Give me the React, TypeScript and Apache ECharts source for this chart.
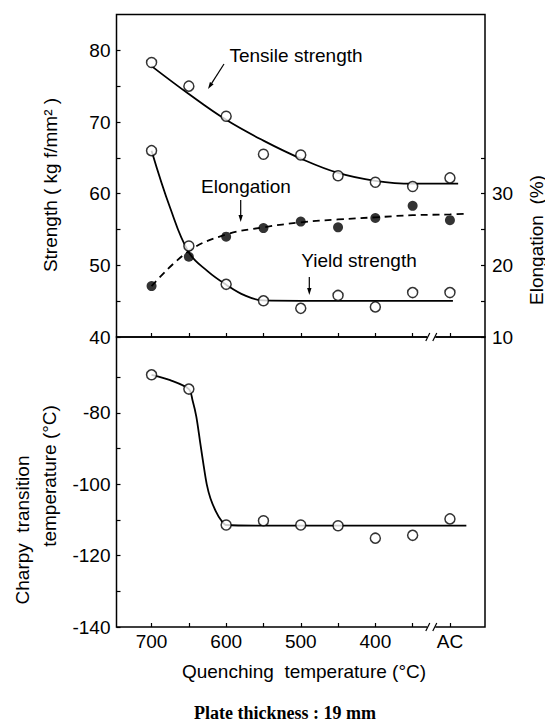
import React, { useEffect, useRef } from "react";
import * as echarts from "echarts";

// Quenching temperatures (°C); 300 is the slot used for "AC" (air cooled)
const temps = [700, 650, 600, 550, 500, 450, 400, 350, 300];
const xLabelValues = [700, 600, 500, 400, 300];

// Measured points
const tensile = [78.3, 75.0, 70.8, 65.5, 65.4, 62.5, 61.6, 61.0, 62.2];
const yieldStrength = [66.0, 52.7, 47.35, 45.05, 44.0, 45.8, 44.2, 46.2, 46.2];
const elongation = [17.1, 21.2, 24.0, 25.2, 26.1, 25.3, 26.6, 28.3, 26.3];
const charpy = [-69.3, -73.3, -111.4, -110.2, -111.4, -111.6, -115.1, -114.3, -109.7];

// Hand-drawn trend curves
const tensileFitX = [700, 650, 600, 550, 500, 450, 400, 350, 300, 289];
const tensileFitY = [77.8, 73.9, 70.3, 67.4, 64.9, 62.9, 61.8, 61.4, 61.4, 61.4];
const yieldFitX = [700, 675, 650, 625, 600, 575, 550, 500, 400, 300, 296];
const yieldFitY = [66.0, 58.0, 51.8, 49.2, 47.3, 45.8, 45.1, 45.05, 45.05, 45.05, 45.05];
const elongFitX = [700, 650, 600, 550, 500, 450, 400, 350, 300, 280];
const elongFitY = [17.1, 22.0, 24.3, 25.3, 26.0, 26.4, 26.7, 27.0, 27.1, 27.2];
const charpyFitX = [700, 675, 650, 645, 640, 635, 630, 626, 621, 614, 607, 600, 550, 400, 300, 278];
const charpyFitY = [-69.3, -70.8, -73.3, -76.5, -81, -88, -95, -100, -104, -107.5, -110, -111.4, -111.6, -111.6, -111.6, -111.6];

// Axis ticks / labels
const strengthTicks = [40, 45, 50, 55, 60, 65, 70, 75, 80];
const strengthLabels = [40, 50, 60, 70, 80];
const elongTicks = [10, 15, 20, 25, 30, 35];
const elongLabels = [10, 20, 30];
const charpyTicks = [-140, -130, -120, -110, -100, -90, -80, -70];
const charpyLabels = [-140, -120, -100, -80];

const FONT = "'Liberation Sans', 'DejaVu Sans', sans-serif";
const BLACK = "#000";

const pairs = (xs: number[], ys: number[]) => xs.map((x, i) => [x, ys[i]]);

function arrow(x1: number, y1: number, x2: number, y2: number) {
  const dx = x2 - x1, dy = y2 - y1;
  const L = Math.hypot(dx, dy);
  const ux = dx / L, uy = dy / L;
  const hl = 7, hw = 2.2;
  const bx = x2 - ux * hl, by = y2 - uy * hl;
  return [
    { type: "line", shape: { x1, y1, x2: bx, y2: by }, style: { stroke: BLACK, lineWidth: 1.2 } },
    {
      type: "polygon",
      shape: { points: [[x2, y2], [bx - uy * hw, by + ux * hw], [bx + uy * hw, by - ux * hw]] },
      style: { fill: BLACK },
    },
  ];
}

function txt(text: string, x: number, y: number, opts: any = {}) {
  return {
    type: "text",
    x,
    y,
    rotation: opts.rotation || 0,
    style: {
      text,
      fill: BLACK,
      font: opts.font || `19px ${FONT}`,
      align: "center",
      verticalAlign: "middle",
      textAlign: "center",
      textVerticalAlign: "middle",
    },
  };
}

export default function App() {
  const ref = useRef<HTMLDivElement>(null);

  useEffect(() => {
    if (!ref.current) return;
    const chart = echarts.init(ref.current, undefined, { renderer: "svg" });

    const tickStyle = { color: BLACK, width: 1.2 };
    const labelBase = { color: BLACK, fontSize: 19, fontFamily: FONT };

    const xAxisBase = {
      type: "value",
      min: 253,
      max: 747,
      inverse: true,
      axisLine: { show: false },
      splitLine: { show: false },
      axisTick: { show: true, inside: true, length: 4, lineStyle: tickStyle, customValues: temps },
    };

    const openCircle = { color: "#fff", borderColor: BLACK, borderWidth: 1.5 };
    const curve = (name: string, xi: number, yi: number, xs: number[], ys: number[], extra: any = {}) => ({
      type: "line", name, xAxisIndex: xi, yAxisIndex: yi,
      data: pairs(xs, ys), smooth: 0.4, symbol: "none",
      lineStyle: { color: BLACK, width: 1.8, ...extra }, z: 2,
    });

    const option: any = {
      animation: false,
      backgroundColor: "#fff",
      grid: [
        { left: 116.5, top: 14.5, width: 368.5, height: 322.5, show: true, borderColor: BLACK, borderWidth: 1.5, backgroundColor: "transparent" },
        { left: 116.5, top: 337, width: 368.5, height: 290, show: true, borderColor: BLACK, borderWidth: 1.5, backgroundColor: "transparent" },
      ],
      xAxis: [
        { ...xAxisBase, gridIndex: 0, axisLabel: { show: false } },
        {
          ...xAxisBase,
          gridIndex: 1,
          axisLabel: {
            ...labelBase,
            margin: 5,
            customValues: xLabelValues,
            formatter: (v: number) => (v === 300 ? "AC" : String(v)),
          },
        },
      ],
      yAxis: [
        {
          type: "value", gridIndex: 0, position: "left", min: 40, max: 85,
          axisLine: { show: false }, splitLine: { show: false },
          axisTick: { show: true, inside: true, length: 4, lineStyle: tickStyle, customValues: strengthTicks },
          axisLabel: { ...labelBase, margin: 6, customValues: strengthLabels },
        },
        {
          type: "value", gridIndex: 0, position: "right", min: 10, max: 55,
          axisLine: { show: false }, splitLine: { show: false },
          axisTick: { show: true, inside: true, length: 4, lineStyle: tickStyle, customValues: elongTicks },
          axisLabel: { ...labelBase, margin: 7, customValues: elongLabels },
        },
        {
          type: "value", gridIndex: 1, position: "left", min: -140, max: -58.7,
          axisLine: { show: false }, splitLine: { show: false },
          axisTick: { show: true, inside: true, length: 4, lineStyle: tickStyle, customValues: charpyTicks },
          axisLabel: { ...labelBase, margin: 6, customValues: charpyLabels },
        },
      ],
      series: [
        curve("Tensile fit", 0, 0, tensileFitX, tensileFitY),
        curve("Yield fit", 0, 0, yieldFitX, yieldFitY),
        curve("Elongation fit", 0, 1, elongFitX, elongFitY, { type: [7, 5] }),
        { ...curve("Charpy fit", 1, 2, charpyFitX, charpyFitY), smooth: 0.3 },
        {
          type: "scatter", name: "Tensile strength", xAxisIndex: 0, yAxisIndex: 0,
          data: pairs(temps, tensile), symbol: "circle", symbolSize: 10, itemStyle: openCircle, z: 5,
        },
        {
          type: "scatter", name: "Yield strength", xAxisIndex: 0, yAxisIndex: 0,
          data: pairs(temps, yieldStrength), symbol: "circle", symbolSize: 10, itemStyle: openCircle, z: 5,
        },
        {
          type: "scatter", name: "Elongation", xAxisIndex: 0, yAxisIndex: 1,
          data: pairs(temps, elongation), symbol: "circle", symbolSize: 10, itemStyle: { color: BLACK }, z: 6,
        },
        {
          type: "scatter", name: "Charpy transition temperature", xAxisIndex: 1, yAxisIndex: 2,
          data: pairs(temps, charpy), symbol: "circle", symbolSize: 10, itemStyle: openCircle, z: 5,
        },
      ],
    };

    chart.setOption(option);

    // Axis break marks between 350 and AC, on the divider and on the bottom axis
    const breaks: any[] = [];
    const brkTop = chart.convertToPixel({ gridIndex: 0 }, [325, 40]) as number[];
    const brkBot = chart.convertToPixel({ gridIndex: 1 }, [325, -140]) as number[];
    [brkTop, brkBot].forEach((p) => {
      const [cx, cy] = p;
      breaks.push({ type: "rect", shape: { x: cx - 4, y: cy - 2, width: 8, height: 4 }, style: { fill: "#fff" }, z: 10 });
      breaks.push({ type: "line", shape: { x1: cx - 5.5, y1: cy + 4, x2: cx - 1.5, y2: cy - 4 }, style: { stroke: BLACK, lineWidth: 1.2 }, z: 11 });
      breaks.push({ type: "line", shape: { x1: cx + 1.5, y1: cy + 4, x2: cx + 5.5, y2: cy - 4 }, style: { stroke: BLACK, lineWidth: 1.2 }, z: 11 });
    });

    const graphic: any[] = [
      ...breaks,
      txt("Tensile strength", 296, 55),
      ...arrow(224, 64, 208, 89),
      txt("Elongation", 246, 186),
      ...arrow(240.7, 200, 240.7, 222),
      txt("Yield strength", 359, 260),
      ...arrow(309.3, 277, 309.3, 295),
      txt("Strength ( kg f/mm² )", 50, 185, { rotation: Math.PI / 2 }),
      txt("Elongation  (%)", 536, 240, { rotation: Math.PI / 2 }),
      txt("Charpy  transition", 22, 530, { rotation: Math.PI / 2 }),
      txt("temperature (°C)", 49, 476, { rotation: Math.PI / 2 }),
      txt("Quenching  temperature (°C)", 304, 671),
      txt("Plate thickness : 19 mm", 285, 713, { font: `bold 18px 'Liberation Serif', 'DejaVu Serif', serif` }),
    ];
    chart.setOption({ graphic });

    return () => chart.dispose();
  }, []);

  return (
    <div
      ref={ref}
      style={{ position: "fixed", left: 0, top: 0, width: 545, height: 725, background: "#fff" }}
    />
  );
}
